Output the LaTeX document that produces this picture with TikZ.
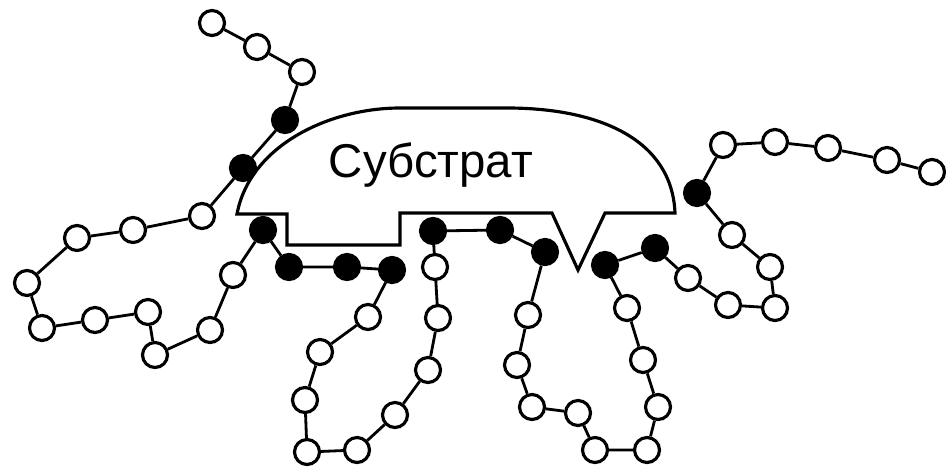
\documentclass[tikz,border=0pt]{standalone}
\usepackage{fontspec}
\setmainfont{Liberation Sans}
\tikzstyle{bead} = [circle, minimum width=0.5cm, draw, fill=white, inner sep=0pt, line width=1.8pt]
\tikzstyle{bound} = [bead, fill=black]
\tikzstyle{bond} = [line width=1.6pt]
\tikzstyle{substrate} = [line width=1.8pt, fill=white, line join=miter]

\begin{document}
\begin{tikzpicture}[x=0.02cm, y=-0.02cm]
      \useasboundingbox (0,0) rectangle (946,470);
      % substrate with the step and the notch underneath
      \draw [substrate] (237,214) .. controls (250,145) and (330,108) .. (400,108)
            -- (507,108) .. controls (600,108) and (672,140) .. (675,213)
            -- (605,213) -- (578,270) -- (552,213) -- (400,213) -- (400,245)
            -- (287,245) -- (287,214) -- cycle;
      \node (sub) at (431,165) {\fontsize{27}{31}\selectfont Субстрат};
      % chain, filled beads are the ones bound to the substrate
      \node (v1) [bead] at (212,23) {};
      \node (v2) [bead] at (257,47) {};
      \node (v3) [bead] at (302,72) {};
      \node (v4) [bound] at (285,120) {};
      \node (v5) [bound] at (243,168) {};
      \node (v6) [bead] at (202,216) {};
      \node (v7) [bead] at (133,230) {};
      \node (v8) [bead] at (77,238) {};
      \node (v9) [bead] at (27,283) {};
      \node (v10) [bead] at (42,328) {};
      \node (v11) [bead] at (95,320) {};
      \node (v12) [bead] at (148,312) {};
      \node (v13) [bead] at (155,355) {};
      \node (v14) [bead] at (210,330) {};
      \node (v15) [bead] at (233,275) {};
      \node (v16) [bound] at (263,230) {};
      \node (v17) [bound] at (289,267) {};
      \node (v18) [bound] at (347,267) {};
      \node (v19) [bound] at (392,270) {};
      \node (v20) [bead] at (368,317) {};
      \node (v21) [bead] at (320,352) {};
      \node (v22) [bead] at (305,400) {};
      \node (v23) [bead] at (307,452) {};
      \node (v24) [bead] at (357,450) {};
      \node (v25) [bead] at (395,415) {};
      \node (v26) [bead] at (428,370) {};
      \node (v27) [bead] at (438,318) {};
      \node (v28) [bead] at (435,267) {};
      \node (v29) [bound] at (433,231) {};
      \node (v30) [bound] at (500,230) {};
      \node (v31) [bound] at (545,252) {};
      \node (v32) [bead] at (528,315) {};
      \node (v33) [bead] at (517,365) {};
      \node (v34) [bead] at (532,407) {};
      \node (v35) [bead] at (578,413) {};
      \node (v36) [bead] at (595,450) {};
      \node (v37) [bead] at (647,450) {};
      \node (v38) [bead] at (658,407) {};
      \node (v39) [bead] at (643,360) {};
      \node (v40) [bead] at (627,308) {};
      \node (v41) [bound] at (605,265) {};
      \node (v42) [bound] at (655,248) {};
      \node (v43) [bead] at (688,278) {};
      \node (v44) [bead] at (728,305) {};
      \node (v45) [bead] at (775,308) {};
      \node (v46) [bead] at (770,267) {};
      \node (v47) [bead] at (732,235) {};
      \node (v48) [bound] at (697,193) {};
      \node (v49) [bead] at (723,145) {};
      \node (v50) [bead] at (775,142) {};
      \node (v51) [bead] at (828,148) {};
      \node (v52) [bead] at (887,160) {};
      \node (v53) [bead] at (932,172) {};
      \draw [bond] (v1) -- (v2) -- (v3) -- (v4) -- (v5) -- (v6) -- (v7) -- (v8)
            -- (v9) -- (v10) -- (v11) -- (v12) -- (v13) -- (v14) -- (v15) -- (v16)
            -- (v17) -- (v18) -- (v19) -- (v20) -- (v21) -- (v22) -- (v23) -- (v24)
            -- (v25) -- (v26) -- (v27) -- (v28) -- (v29) -- (v30) -- (v31) -- (v32)
            -- (v33) -- (v34) -- (v35) -- (v36) -- (v37) -- (v38) -- (v39) -- (v40)
            -- (v41) -- (v42) -- (v43) -- (v44) -- (v45) -- (v46) -- (v47) -- (v48)
            -- (v49) -- (v50) -- (v51) -- (v52) -- (v53);
\end{tikzpicture}
\end{document}
